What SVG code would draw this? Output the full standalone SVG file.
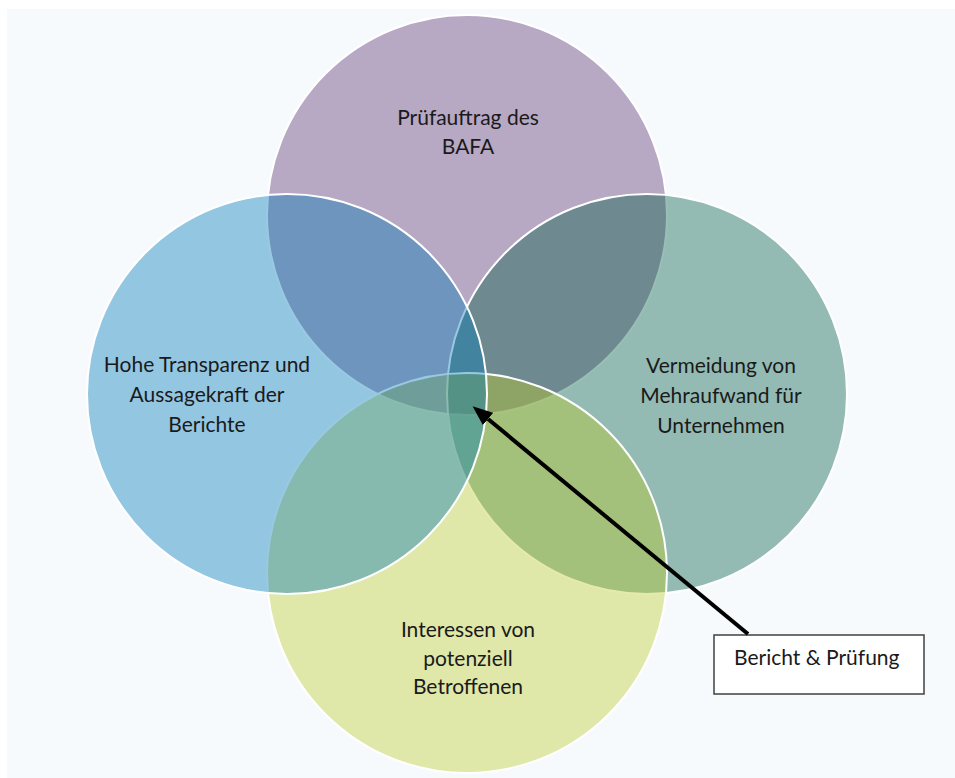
<svg xmlns="http://www.w3.org/2000/svg" width="955" height="778" viewBox="0 0 955 778">
<defs>
<style>
.c{stroke:#ffffff;stroke-width:2;fill-opacity:0.4}
.t{font-family:Lato,"Open Sans","Liberation Sans",sans-serif;font-size:21px;fill:#1a1a1a;text-anchor:middle}
.lb{font-family:Lato,"Open Sans","Liberation Sans",sans-serif;font-size:21px;fill:#1a1a1a}
</style>
<marker id="ah" viewBox="0 0 20 16" refX="0" refY="8" markerWidth="20" markerHeight="16" markerUnits="userSpaceOnUse" orient="auto">
<path d="M0,0 L20,8 L0,16 Z" fill="#000000"/>
</marker>
</defs>
<rect x="0" y="0" width="955" height="778" fill="#ffffff"/>
<rect x="7" y="9" width="948" height="769" fill="#f6fafd"/>
<g id="node-top"><circle class="c" cx="467" cy="215" r="200" fill="#5b2d6e"/></g>
<g id="node-right"><circle class="c" cx="647" cy="394" r="200" fill="#005c44"/></g>
<g id="node-bottom"><circle class="c" cx="467" cy="573" r="200" fill="#bfca2b"/></g>
<g id="node-left"><circle class="c" cx="287" cy="394" r="200" fill="#0078b7"/></g>
<g id="labels">
<text class="t" x="468" y="125">Prüfauftrag des</text>
<text class="t" x="468" y="154">BAFA</text>
<text class="t" x="207" y="372">Hohe Transparenz und</text>
<text class="t" x="207" y="402">Aussagekraft der</text>
<text class="t" x="207" y="432">Berichte</text>
<text class="t" x="721" y="373">Vermeidung von</text>
<text class="t" x="721" y="403">Mehraufwand für</text>
<text class="t" x="721" y="433">Unternehmen</text>
<text class="t" x="468" y="637">Interessen von</text>
<text class="t" x="468" y="666">potenziell</text>
<text class="t" x="468" y="694">Betroffenen</text>
</g>
<g id="node-callout">
<rect x="714" y="635" width="210" height="59" fill="#ffffff" stroke="#404040" stroke-width="1.5"/>
<text class="lb" x="734" y="665">Bericht &amp; Prüfung</text>
</g>
<g id="connectors">
<line x1="748" y1="634" x2="488" y2="419" stroke="#000000" stroke-width="4" marker-end="url(#ah)"/>
</g>
</svg>
